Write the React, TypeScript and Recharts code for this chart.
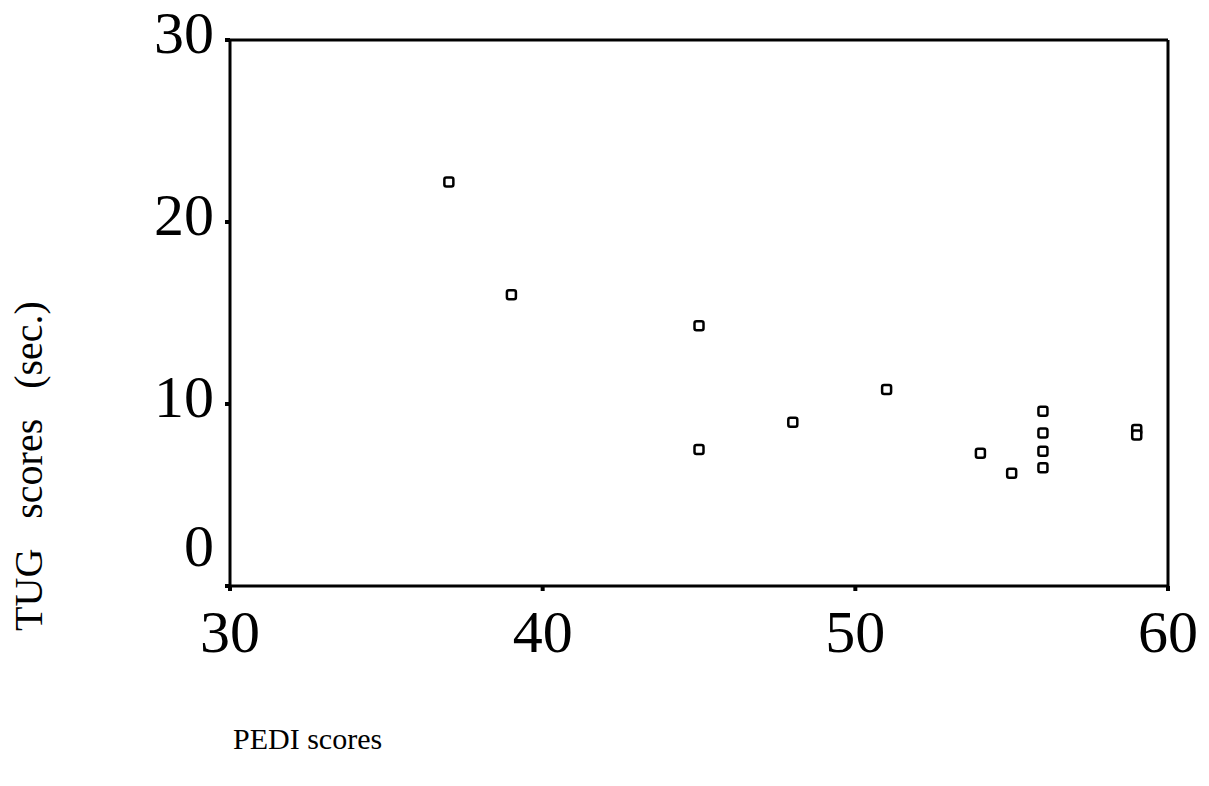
import { ScatterChart, Scatter, XAxis, YAxis, ReferenceLine } from 'recharts';

// --- Data ---

const pediScores = [37, 39, 45, 45, 48, 51, 54, 55, 56, 56, 56, 56, 59, 59];
const tugScores = [22.2, 16.0, 14.3, 7.5, 9.0, 10.8, 7.3, 6.2, 9.6, 8.4, 7.4, 6.5, 8.6, 8.3];
const xTicks = [30, 40, 50, 60];
const yTicks = [0, 10, 20, 30];

const points = pediScores.map((p, i) => ({ pedi: p, tug: tugScores[i] }));

const FONT = '"Liberation Serif", "DejaVu Serif", serif';

// small open square, rounded corners
const SquareMarker = (props: any) => {
  const { cx, cy } = props;
  if (cx == null || cy == null) return null;
  return (
    <rect x={cx - 4.5} y={cy - 4.5} width={9} height={9} rx={2} fill="#fff" stroke="#000" strokeWidth={2.5} />
  );
};

const YTick = (props: any) => {
  const { x, y, payload } = props;
  // the 0 label sits above the corner in the original
  const shift = payload.value === 0 ? -41 : -8;
  return (
    <text x={x - 9} y={y + shift} dy="0.35em" textAnchor="end" fontFamily={FONT} fontSize={60} fill="#000">
      {payload.value}
    </text>
  );
};

const XTick = (props: any) => {
  const { x, y, payload } = props;
  return (
    <text x={x} y={y + 38} dy="0.35em" textAnchor="middle" fontFamily={FONT} fontSize={60} fill="#000">
      {payload.value}
    </text>
  );
};

export default function App() {
  return (
    <div style={{ position: 'absolute', left: 0, top: 0, width: 1209, height: 786, background: '#fff' }}>
      <ScatterChart width={1209} height={786} margin={{ top: 40, right: 41, left: 0, bottom: 0 }}>
        <XAxis
          type="number"
          dataKey="pedi"
          domain={[30, 60]}
          ticks={xTicks}
          height={200}
          axisLine={{ stroke: '#000', strokeWidth: 3 }}
          tickLine={{ stroke: '#000', strokeWidth: 4 }}
          tickSize={5}
          tick={<XTick />}
          label={{
            content: (p: any) => (
              <text x={p.viewBox.x + 3} y={p.viewBox.y + 163} fontFamily={FONT} fontSize={30} fill="#000">
                PEDI scores
              </text>
            ),
          }}
        />
        <YAxis
          type="number"
          dataKey="tug"
          domain={[0, 30]}
          ticks={yTicks}
          width={230}
          axisLine={{ stroke: '#000', strokeWidth: 3 }}
          tickLine={{ stroke: '#000', strokeWidth: 4 }}
          tickSize={5}
          tick={<YTick />}
          label={{
            content: () => (
              <text
                x={42}
                y={466}
                transform="rotate(-90 42 466)"
                textAnchor="middle"
                fontFamily={FONT}
                fontSize={40}
                fill="#000"
                style={{ whiteSpace: 'pre' }}
              >
                {'TUG   scores   (sec.)'}
              </text>
            ),
          }}
        />
        <ReferenceLine y={30} stroke="#000" strokeWidth={3} />
        <ReferenceLine x={60} stroke="#000" strokeWidth={3} />
        <Scatter data={points} shape={<SquareMarker />} isAnimationActive={false} />
      </ScatterChart>
    </div>
  );
}
